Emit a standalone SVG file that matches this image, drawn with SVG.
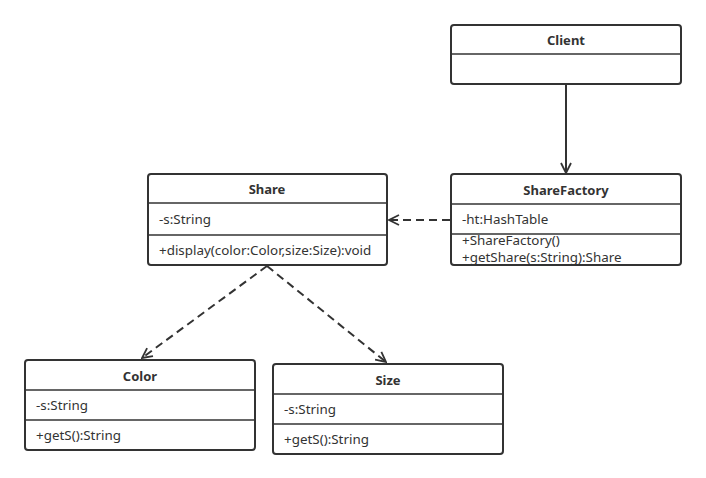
<svg xmlns="http://www.w3.org/2000/svg" width="706" height="478" viewBox="0 0 706 478">
<style>
.box{fill:#fff;stroke:#333;stroke-width:2}
.div{stroke:#333;stroke-width:1.5}
.t{font-family:"Noto Sans","Liberation Sans",sans-serif;font-size:13.4px;fill:#333}
.b{font-weight:bold;text-anchor:middle;font-size:13px}
.c{fill:none;stroke:#333;stroke-width:2}
.d{stroke-dasharray:8 5}
</style>
<defs>
<marker id="open" viewBox="0 0 12 12" refX="11" refY="6" markerWidth="12" markerHeight="12" markerUnits="userSpaceOnUse" orient="auto">
<path d="M1,1 L11,6 L1,11" fill="none" stroke="#333" stroke-width="1.8"/>
</marker>
</defs>
<rect width="706" height="478" fill="#fff"/>
<g id="connectors">
<path class="c" d="M566,85 V173" marker-end="url(#open)"/>
<path class="c d" d="M450,220 H389" marker-end="url(#open)"/>
<path class="c d" d="M267,266 L142,358" marker-end="url(#open)"/>
<path class="c d" d="M267,266 L386,362" marker-end="url(#open)"/>
</g>
<g id="client">
<rect class="box" x="451" y="25" width="230" height="59" rx="3"/>
<line class="div" x1="451" y1="54" x2="681" y2="54"/>
<text class="t b" x="566" y="45">Client</text>
</g>
<g id="sharefactory">
<rect class="box" x="451" y="174" width="230" height="91" rx="3"/>
<line class="div" x1="451" y1="204" x2="681" y2="204"/>
<line class="div" x1="451" y1="234" x2="681" y2="234"/>
<text class="t b" x="566" y="195">ShareFactory</text>
<text class="t" x="462" y="224">-ht:HashTable</text>
<text class="t" x="462" y="245">+ShareFactory()</text>
<text class="t" x="462" y="262">+getShare(s:String):Share</text>
</g>
<g id="share">
<rect class="box" x="148" y="174" width="239" height="91" rx="3"/>
<line class="div" x1="148" y1="203" x2="387" y2="203"/>
<line class="div" x1="148" y1="235" x2="387" y2="235"/>
<text class="t b" x="267" y="194">Share</text>
<text class="t" x="159" y="224">-s:String</text>
<text class="t" x="159" y="255">+display(color:Color,size:Size):void</text>
</g>
<g id="color">
<rect class="box" x="25" y="360" width="230" height="90" rx="3"/>
<line class="div" x1="25" y1="390" x2="255" y2="390"/>
<line class="div" x1="25" y1="420" x2="255" y2="420"/>
<text class="t b" x="140" y="381">Color</text>
<text class="t" x="36" y="410">-s:String</text>
<text class="t" x="36" y="440">+getS():String</text>
</g>
<g id="size">
<rect class="box" x="273" y="364" width="230" height="90" rx="3"/>
<line class="div" x1="273" y1="394" x2="503" y2="394"/>
<line class="div" x1="273" y1="424" x2="503" y2="424"/>
<text class="t b" x="388" y="385">Size</text>
<text class="t" x="284" y="414">-s:String</text>
<text class="t" x="284" y="444">+getS():String</text>
</g>
</svg>
